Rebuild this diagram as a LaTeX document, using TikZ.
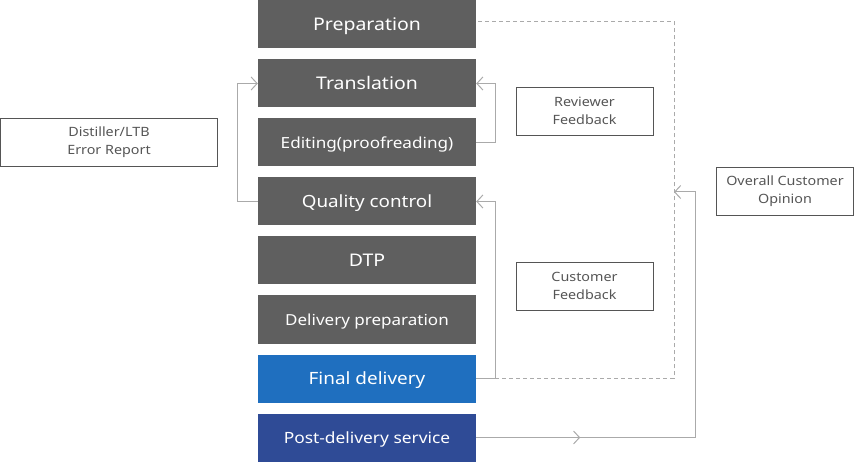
\documentclass[tikz,border=0pt]{standalone}
\usepackage{fontspec}
\setmainfont[FakeStretch=1.12]{Noto Sans}
\usetikzlibrary{arrows.meta,decorations.markings}
\definecolor{stepgray}{HTML}{5F5F5F}
\definecolor{stepblue}{HTML}{1F6FBF}
\definecolor{stepnavy}{HTML}{2F4B96}
\definecolor{linegray}{HTML}{AAAAAA}
\definecolor{boxgray}{HTML}{555555}
\newcommand{\fsz}[1]{\fontsize{#1}{18}\selectfont}
\tikzset{
  stepbox/.style 2 args={fill=stepgray, text=white, minimum width=218pt, minimum height=48pt, inner sep=0pt, font=\fsz{#1}, text height=#2, text depth=0pt},
  notebox/.style={draw=boxgray, line width=0.9pt, text=boxgray, minimum width=137pt, minimum height=48pt, inner sep=0pt, align=center, font=\fontsize{12.8}{18}\selectfont},
  conn/.style={draw=linegray, line width=1pt},
  tipc/.style={-{Straight Barb[length=6pt,width=13pt,line width=1pt]}},
  dashc/.style={draw=linegray, line width=1pt, dash pattern=on 4pt off 3pt},
}
\begin{document}
\begin{tikzpicture}[x=1pt,y=-1pt]
\useasboundingbox (0,0) rectangle (854,462);
\node[stepbox={17.4}{13pt}] (prep)  at (367,24.5) {Preparation};
\node[stepbox={17.4}{13pt}] (trans) at (367,83.5) {Translation};
\node[stepbox={15.3}{11.5pt}] (edit)  at (367,142.5) {Editing(proofreading)};
\node[stepbox={16.8}{12.6pt}] (qc)    at (367,201.5) {Quality control};
\node[stepbox={17.4}{13pt}] (dtp)   at (367,260.5) {DTP};
\node[stepbox={15.2}{11.4pt}] (dprep) at (367,319.5) {Delivery preparation};
\node[stepbox={16.9}{12.7pt}, fill=stepblue] (final) at (367,378.5) {Final delivery};
\node[stepbox={15.5}{11.6pt}, fill=stepnavy] (post)  at (367,437.5) {Post-delivery service};

\node[notebox, minimum width=217pt] (dist) at (109,142) {Distiller/LTB\\Error Report};
\node[notebox] (rev)  at (584.5,111) {Reviewer\\Feedback};
\node[notebox] (cust) at (584.5,286) {Customer\\Feedback};
\node[notebox] (over) at (785,191) {Overall Customer\\Opinion};

\coordinate (dtop) at (674,21.5);
\coordinate (dbot) at (674,378.5);
\coordinate (ojoin) at (674,192);

% Reviewer feedback loop
\draw[conn,tipc] (edit.east) -- ++(19,0) |- (trans.east);
% Distiller loop
\draw[conn,tipc] (qc.west) -- ++(-20,0) |- (trans.west);
% Customer feedback loop
\draw[conn,tipc] (final.east) -- ++(19,0) coordinate (fc) |- (qc.east);
% Overall dashed loop
\draw[dashc] (fc) -- (dbot) -- (dtop) -- (prep.east |- dtop);
% Post-delivery line
\draw[conn,tipc,
  postaction={decorate, decoration={markings, mark=at position 104pt with {\arrow{Straight Barb[length=6pt,width=13pt,line width=1pt]}}}}]
  (post.east) -- ++(219,0) |- (ojoin);
\end{tikzpicture}
\end{document}
